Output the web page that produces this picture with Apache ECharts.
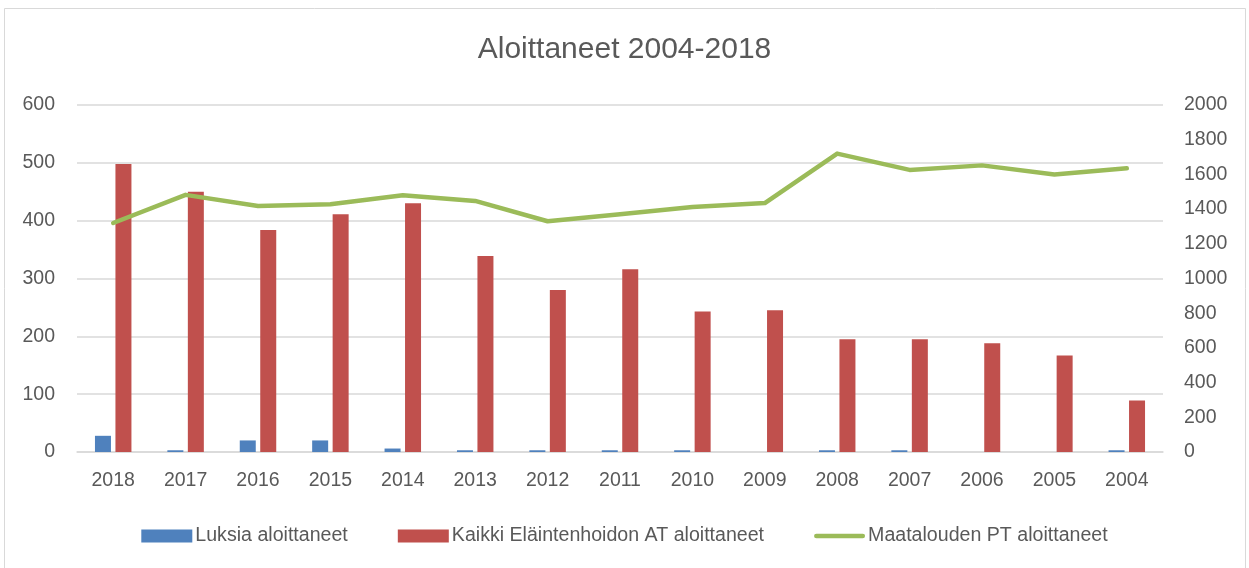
<!DOCTYPE html>
<html>
<head>
<meta charset="utf-8">
<script src="https://cdn.jsdelivr.net/npm/echarts@6/dist/echarts.min.js"></script>
<style>
  html, body { margin: 0; padding: 0; background: #fff; }
  #chart { width: 1249px; height: 568px; }
</style>
</head>
<body>
<div id="chart"></div>
<script>
// --- données ---
const vuodet = ['2018', '2017', '2016', '2015', '2014', '2013', '2012', '2011', '2010', '2009', '2008', '2007', '2006', '2005', '2004'];
const luksia = [28, 3, 20, 20, 6, 3, 3, 3, 3, 0, 3, 3, 0, 0, 3];
const kaikkiAT = [498, 450, 384, 411, 430, 339, 280, 316, 243, 245, 195, 195, 188, 167, 89];
const maatalousPT = [1320, 1482, 1418, 1428, 1480, 1447, 1330, 1370, 1412, 1435, 1720, 1626, 1652, 1600, 1635];

const fontMain = "'Liberation Sans', Arial, sans-serif";
const textColor = '#595959';
const gridColor = '#d9d9d9';

const myChart = echarts.init(document.getElementById('chart'));

const option = {
    animation: false,
    textStyle: { fontFamily: fontMain },
    title: {
        text: 'Aloittaneet 2004-2018',
        left: 'center',
        top: 30,
        textStyle: { fontFamily: fontMain, fontSize: 30, fontWeight: 'normal', color: textColor }
    },
    graphic: [{
        type: 'rect',
        shape: { x: 4.5, y: 8.5, width: 1241, height: 600 },
        style: { fill: 'none', stroke: gridColor, lineWidth: 1 },
        silent: true
    }],
    legend: {
        bottom: 17,
        left: 'center',
        itemWidth: 51,
        itemHeight: 13,
        itemGap: 50,
        textStyle: { fontFamily: fontMain, fontSize: 19.6, color: textColor, padding: [0, 0, 0, -2] },
        data: [
            { name: 'Luksia aloittaneet', icon: 'rect' },
            { name: 'Kaikki Eläintenhoidon AT aloittaneet', icon: 'rect' },
            { name: 'Maatalouden PT aloittaneet', icon: 'path://M2.5,0 L52.5,0 A2.5,2.5 0 0 1 52.5,5 L2.5,5 A2.5,2.5 0 0 1 2.5,0 Z' }
        ]
    },
    grid: { left: 77, right: 86, top: 105, bottom: 116 },
    xAxis: {
        type: 'category',
        data: vuodet,
        axisLine: { lineStyle: { color: gridColor, width: 1.5 } },
        axisTick: { show: false },
        axisLabel: { fontFamily: fontMain, fontSize: 19.5, color: textColor, margin: 19 }
    },
    yAxis: [{
        type: 'value',
        min: 0, max: 600, interval: 100,
        axisLine: { show: false },
        axisTick: { show: false },
        splitLine: { lineStyle: { color: gridColor, width: 1.5 } },
        axisLabel: { fontFamily: fontMain, fontSize: 19.5, color: textColor, margin: 22 }
    }, {
        type: 'value',
        min: 0, max: 2000, interval: 200,
        axisLine: { show: false },
        axisTick: { show: false },
        splitLine: { show: false },
        axisLabel: { fontFamily: fontMain, fontSize: 19.5, color: textColor, margin: 21, formatter: v => String(v) }
    }],
    series: [{
        name: 'Luksia aloittaneet',
        type: 'bar',
        data: luksia,
        barWidth: 16,
        barGap: '28%',
        itemStyle: { color: '#4f81bd' }
    }, {
        name: 'Kaikki Eläintenhoidon AT aloittaneet',
        type: 'bar',
        data: kaikkiAT,
        barWidth: 16,
        barGap: '28%',
        itemStyle: { color: '#c0504d' }
    }, {
        name: 'Maatalouden PT aloittaneet',
        type: 'line',
        yAxisIndex: 1,
        data: maatalousPT,
        symbol: 'none',
        lineStyle: { color: '#9bbb59', width: 4.5, cap: 'round', join: 'round' },
        itemStyle: { color: '#9bbb59' }
    }]
};

myChart.setOption(option);
window.addEventListener('resize', () => myChart.resize());
</script>
</body>
</html>
